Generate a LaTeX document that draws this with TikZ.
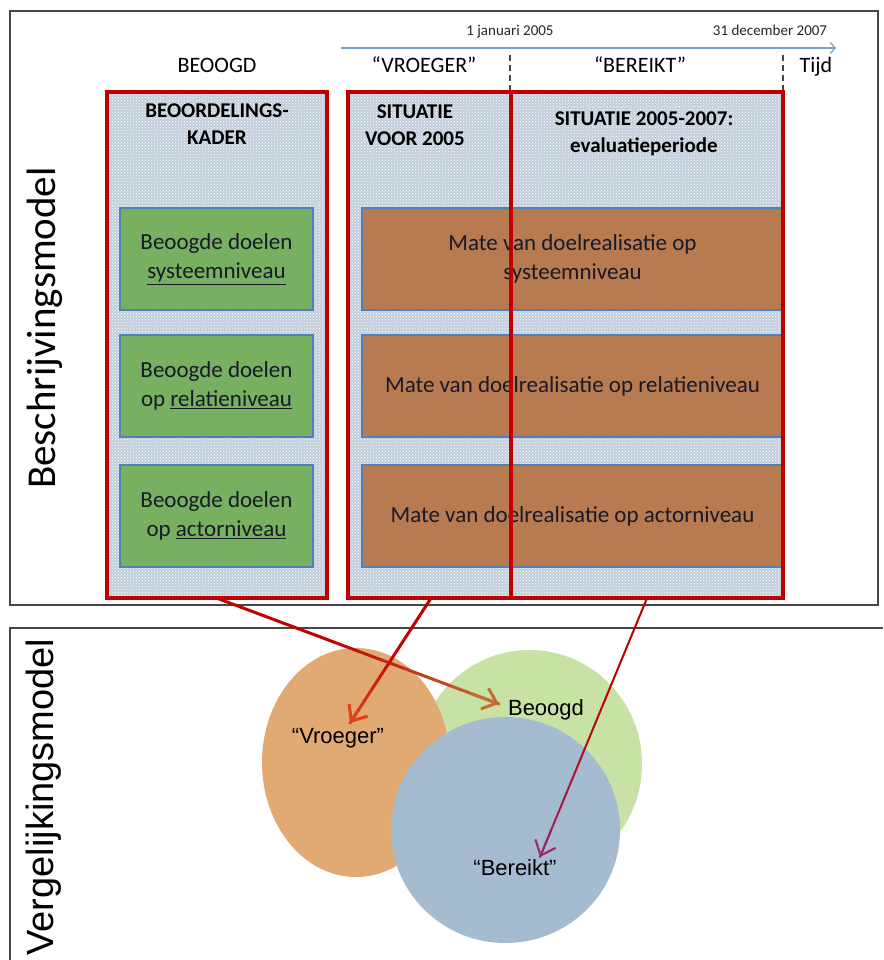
\documentclass[tikz,border=0pt]{standalone}
\usepackage{fontspec}
\setmainfont{Carlito}
\newfontfamily\arialfont{Liberation Sans}
\usetikzlibrary{arrows.meta,shapes.geometric,calc,patterns}

\definecolor{frameRed}{RGB}{192,0,0}
\definecolor{colFill}{RGB}{194,206,219}
\definecolor{goalGreen}{RGB}{118,176,96}
\definecolor{realBrown}{RGB}{184,122,80}
\definecolor{boxBlue}{RGB}{79,129,189}
\definecolor{timeBlue}{RGB}{120,160,200}
\definecolor{circOrange}{RGB}{225,170,115}
\definecolor{circGreen}{RGB}{200,225,165}
\definecolor{circBlue}{RGB}{165,187,207}
\definecolor{frameGray}{RGB}{70,70,70}
\definecolor{txt}{RGB}{25,25,40}
\definecolor{tipBrown}{RGB}{195,110,55}
\definecolor{tipOrange}{RGB}{225,65,25}
\definecolor{tipPurple}{RGB}{150,40,95}

% straight connector whose colour runs from #3 to #4, ending in an open barb
\newcommand{\shadedlink}[5]{%
  \foreach \k in {0,...,11}{%
    \pgfmathsetmacro{\ta}{\k/12}%
    \pgfmathsetmacro{\tb}{(\k+1)/12}%
    \pgfmathtruncatemacro{\mix}{max(0,min(100,(\ta-0.35)/0.6*100))}%
    \draw[line width=#5, line cap=round, draw=#4!\mix!#3]
      ($(#1)!\ta!(#2)$) -- ($(#1)!\tb!(#2)$);
  }%
  \draw[line width=#5, draw=#4, -{Straight Barb[length=13pt,width=22pt]}]
    ($(#1)!0.9!(#2)$) -- (#2);
}

\tikzset{
  colbox/.style={fill=colFill, draw=none, minimum height=506pt, inner sep=0pt,
    postaction={pattern=crosshatch dots, pattern color=white}},
  redframe/.style={draw=frameRed, line width=3.5pt},
  goalbox/.style={fill=goalGreen, draw=boxBlue, line width=1.8pt,
    minimum width=193pt, minimum height=102pt, inner sep=0pt, align=center,
    text=txt, font=\fontsize{23}{29}\selectfont},
  realbox/.style={goalbox, fill=realBrown, minimum width=421pt},
  header/.style={anchor=base, font=\fontsize{22}{26}\selectfont},
  datelabel/.style={anchor=base, font=\fontsize{15}{18}\selectfont, text=black!85},
  coltitle/.style={anchor=north, align=center, inner sep=0pt,
    font=\bfseries\fontsize{21}{27}\selectfont},
  blob/.style={ellipse, draw=none, inner sep=0pt},
  blobtext/.style={anchor=base, font=\arialfont\fontsize{22}{26}\selectfont},
  sidetitle/.style={rotate=90, anchor=base},
}

\begin{document}
\begin{tikzpicture}[x=1pt, y=-1pt]
\useasboundingbox (0,0) rectangle (883,960);
\fill[white] (0,0) rectangle (883,960);

% outer frames of the two models
\draw[frameGray, line width=1.3pt] (10,11) rectangle (878,605);
\draw[frameGray, line width=1.3pt] (883,628) -- (10,628) -- (10,960);

% time axis
\coordinate (tstart) at (341,48);
\coordinate (tend) at (836,48);
\draw[timeBlue, line width=1.2pt, -{Straight Barb[length=5pt,width=11pt]}] (tstart) -- (tend);
\node[datelabel] (d1) at (510,36) {1 januari 2005};
\node[datelabel] (d2) at (770,36) {31 december 2007};
\coordinate (m1a) at (510,55); \coordinate (m1b) at (510,92);
\coordinate (m2a) at (783,55); \coordinate (m2b) at (783,92);
\draw[frameGray, line width=1.3pt, dash pattern=on 6pt off 4pt] (m1a) -- (m1b);
\draw[frameGray, line width=1.3pt, dash pattern=on 6pt off 4pt] (m2a) -- (m2b);

% column headers
\node[header] (hbeoogd) at (217,73) {BEOOGD};
\node[header] (hvroeger) at (424,73) {“VROEGER”};
\node[header] (hbereikt) at (640,73) {“BEREIKT”};
\node[header] (htijd) at (816,73) {Tijd};

% column backgrounds
\node[colbox, minimum width=220pt] (kader) at (217,345) {};
\node[colbox, minimum width=163pt] (voor) at (429.5,345) {};
\node[colbox, minimum width=272pt] (eval) at (647,345) {};

\node[coltitle] (tkader) at (217,104) {BEOORDELINGS-\\KADER};
\node[coltitle] (tvoor) at (415,104.5) {SITUATIE\\VOOR 2005};
\node[coltitle] (teval) at (644,111.5) {SITUATIE 2005-2007:\\evaluatieperiode};

% intended goals
\node[goalbox] (g1) at (216.5,259) {Beoogde doelen\\\underline{systeemniveau}};
\node[goalbox] (g2) at (216.5,386) {Beoogde doelen\\op \underline{relatieniveau}};
\node[goalbox] (g3) at (216.5,516) {Beoogde doelen\\op \underline{actorniveau}};

% realised goals
\node[realbox] (r1) at (572.5,259) {Mate van doelrealisatie op\\systeemniveau};
\node[realbox] (r2) at (572.5,386) {Mate van doelrealisatie op relatieniveau};
\node[realbox] (r3) at (572.5,516) {Mate van doelrealisatie op actorniveau};

% red column borders on top
\draw[redframe] (kader.south west) rectangle (kader.north east);
\draw[redframe] (voor.south west) rectangle (voor.north east);
\draw[redframe] (eval.south west) rectangle (eval.north east);

% comparison model
\node[blob, fill=circGreen, minimum width=225pt, minimum height=228pt] (cbeoogd) at (529.5,764) {};
\node[blob, fill=circOrange, minimum width=188pt, minimum height=229pt] (cvroeger) at (356,762.5) {};
\node[blob, fill=circBlue, minimum width=229pt, minimum height=226pt] (cbereikt) at (505.5,830) {};

\node[blobtext] (lvroeger) at (338,743) {“Vroeger”};
\node[blobtext] (lbeoogd) at (546,715) {Beoogd};
\node[blobtext] (lbereikt) at (515,875) {“Bereikt”};

% links from the description model to the comparison model
\coordinate (e1) at (499,704);
\coordinate (e2) at (350,723);
\coordinate (e3) at (540,857);
\shadedlink{kader.south}{e1}{frameRed}{tipBrown}{3pt}
\shadedlink{$(voor.south)+(1.5,0)$}{e2}{frameRed}{tipOrange}{3pt}
\shadedlink{eval.south}{e3}{frameRed}{tipPurple}{2pt}

% model titles
\node[sidetitle, font=\fontsize{41}{41}\selectfont] (beschr) at (55,328) {Beschrijvingsmodel};
\node[sidetitle, font=\arialfont\fontsize{38}{38}\selectfont] (vergel) at (53,797) {Vergelijkingsmodel};
\end{tikzpicture}
\end{document}
